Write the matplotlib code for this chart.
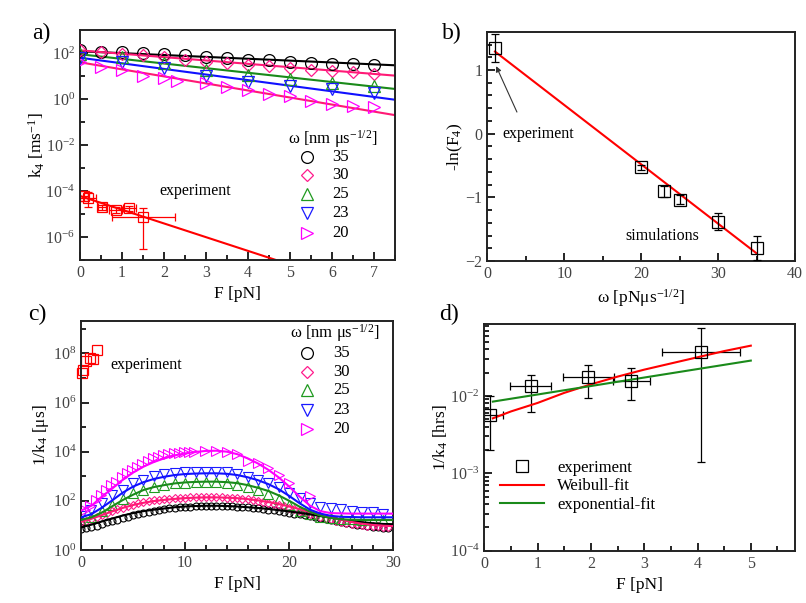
import numpy as np
import matplotlib
matplotlib.use("Agg")
import matplotlib.pyplot as plt
from matplotlib.lines import Line2D
from matplotlib.ticker import FixedLocator, FuncFormatter, MultipleLocator, LogLocator, NullFormatter

plt.rcParams['font.family'] = ['Liberation Serif', 'DejaVu Serif']
plt.rcParams['mathtext.fontset'] = 'custom'
plt.rcParams['mathtext.rm'] = 'Liberation Serif'
plt.rcParams['mathtext.it'] = 'Liberation Serif:italic'
plt.rcParams['mathtext.bf'] = 'Liberation Serif:bold'

# ---------------- data ----------------
omega = [35, 30, 25, 23, 20]
colors = ['black', '#ff1a8c', '#1f9a1f', '#1a1aff', '#ff00ff']
line_colors = ['black', '#ff1a75', '#1a8a1a', '#1010ff', '#ff1a75']
markers = ['o', 'D', '^', 'v', '>']

# panel a: log10 k4 [ms^-1]
a_F_half = [0, 0.5, 1, 1.5, 2, 2.5, 3, 3.5, 4, 4.5, 5, 5.5, 6, 6.5, 7]
a_F_int = [0, 1, 2, 3, 4, 5, 6, 7]
a_F_20 = [0, 0.5, 1, 1.5, 2, 2.3, 3, 3.5, 4, 4.5, 5, 5.5, 6, 6.5, 7]
a_k35 = [2.12, 2.07, 2.06, 2.01, 1.97, 1.9, 1.84, 1.8, 1.72, 1.68, 1.63, 1.58, 1.53, 1.52, 1.49]
a_k30 = [2.12, 2.04, 1.97, 1.93, 1.83, 1.72, 1.63, 1.55, 1.48, 1.42, 1.35, 1.28, 1.21, 1.17, 1.1]
a_k25 = [1.97, 1.82, 1.58, 1.28, 1.05, 0.88, 0.69, 0.59]
a_k23 = [1.78, 1.63, 1.35, 1.02, 0.76, 0.56, 0.44, 0.27]
a_k20 = [1.6, 1.4, 1.25, 1.02, 0.9, 0.8, 0.7, 0.52, 0.38, 0.22, 0.15, -0.07, -0.2, -0.29, -0.36]
a_fit_F = [0, 7.5]
a_fit = [[2.08, 1.47], [2.12, 1.02], [1.95, 0.44], [1.8, -0.03], [1.6, -0.7]]

exp_F = [0.1, 0.18, 0.52, 0.85, 1.17, 1.51]
exp_logk = [-4.2, -4.32, -4.7, -4.82, -4.76, -5.12]
exp_Ferr = [0.1, 0.2, 0.1, 0.15, 0.15, 0.75]
exp_logk_dn = [0.25, 0.36, 0.12, 0.15, 0.12, 1.4]
exp_logk_up = [0.2, 0.29, 0.1, 0.12, 0.1, 0.39]
exp_fit_F = [0, 7.5]
exp_fit = [-4.22, -8.7]

# panel b
b_omega = [20, 23, 25, 30, 35]
b_val = [-0.53, -0.905, -1.04, -1.38, -1.79]
b_err = [0.04, 0.09, 0.07, 0.13, 0.19]
b_exp_omega = [1.0]
b_exp_val = [1.35]
b_exp_err_dn = [0.22]
b_exp_err_up = [0.21]
b_fit_omega = [1, 35]
b_fit = [1.29, -1.88]

# panel c: log10 1/k4 [us]
c_F_fit = np.arange(0, 31, 1)
c_fit35 = [0.92, 1.03, 1.16, 1.28, 1.4, 1.5, 1.58, 1.64, 1.69, 1.74, 1.77, 1.79, 1.8, 1.8, 1.79, 1.77,
           1.74, 1.71, 1.67, 1.62, 1.57, 1.51, 1.45, 1.38, 1.31, 1.24, 1.18, 1.13, 1.09, 1.06, 1.05]
c_fit30 = [1.15, 1.27, 1.42, 1.57, 1.71, 1.83, 1.92, 1.99, 2.04, 2.08, 2.11, 2.13, 2.14, 2.14, 2.13, 2.11,
           2.07, 2.02, 1.95, 1.87, 1.77, 1.66, 1.55, 1.43, 1.32, 1.22, 1.14, 1.07, 1.02, 0.99, 0.97]
c_fit25 = [1.22, 1.33, 1.52, 1.78, 2.03, 2.25, 2.44, 2.56, 2.64, 2.71, 2.75, 2.77, 2.78, 2.78, 2.76, 2.72,
           2.64, 2.53, 2.4, 2.22, 2.0, 1.76, 1.56, 1.4, 1.3, 1.25, 1.23, 1.22, 1.22, 1.22, 1.22]
c_fit23 = [1.33, 1.46, 1.72, 2.02, 2.33, 2.58, 2.76, 2.89, 2.98, 3.05, 3.09, 3.11, 3.12, 3.12, 3.1, 3.05,
           2.96, 2.84, 2.68, 2.47, 2.2, 1.9, 1.64, 1.48, 1.39, 1.35, 1.34, 1.33, 1.33, 1.33, 1.33]
c_fit20 = [1.6, 1.8, 2.17, 2.5, 2.85, 3.15, 3.39, 3.58, 3.73, 3.85, 3.93, 3.99, 4.03, 4.04, 4.0, 3.9,
           3.73, 3.52, 3.26, 2.95, 2.58, 2.17, 1.8, 1.58, 1.5, 1.49, 1.48, 1.48, 1.48, 1.48, 1.48]

c_F_half = np.arange(0, 30, 0.5)
c_F_int = np.arange(0, 30, 1)
c_d35 = [0.85, 0.88, 0.93, 0.99, 1.05, 1.12, 1.18, 1.24, 1.3, 1.36, 1.42, 1.47, 1.52, 1.56, 1.6, 1.63,
         1.66, 1.69, 1.71, 1.73, 1.75, 1.76, 1.77, 1.78, 1.78, 1.79, 1.79, 1.78, 1.78, 1.77, 1.76, 1.74,
         1.73, 1.71, 1.69, 1.67, 1.64, 1.61, 1.58, 1.55, 1.52, 1.48, 1.45, 1.41, 1.37, 1.33, 1.29, 1.25,
         1.21, 1.17, 1.13, 1.1, 1.06, 1.03, 1.0, 0.97, 0.95, 0.93, 0.91, 0.9]
c_d30 = [1.12, 1.18, 1.25, 1.33, 1.41, 1.49, 1.57, 1.65, 1.72, 1.79, 1.85, 1.9, 1.95, 1.99, 2.02, 2.05,
         2.07, 2.09, 2.11, 2.12, 2.13, 2.14, 2.14, 2.15, 2.15, 2.15, 2.14, 2.14, 2.13, 2.12, 2.1, 2.08,
         2.06, 2.03, 2.0, 1.96, 1.92, 1.88, 1.83, 1.78, 1.72, 1.66, 1.6, 1.54, 1.48, 1.42, 1.36, 1.3,
         1.25, 1.2, 1.15, 1.11, 1.07, 1.04, 1.01, 0.99, 0.97, 0.96, 0.95, 0.94]
c_d25 = [1.2, 1.35, 1.6, 1.85, 2.06, 2.3, 2.46, 2.57, 2.64, 2.71, 2.73, 2.75, 2.75, 2.75, 2.73, 2.66,
         2.55, 2.44, 2.28, 2.06, 1.83, 1.6, 1.45, 1.35, 1.3, 1.27, 1.25, 1.24, 1.23, 1.22]
c_d23 = [1.4, 1.63, 1.9, 2.24, 2.46, 2.71, 2.85, 3.01, 3.09, 3.14, 3.17, 3.18, 3.18, 3.18, 3.17, 3.08,
         2.98, 2.85, 2.71, 2.57, 2.3, 2.1, 1.9, 1.76, 1.69, 1.65, 1.6, 1.56, 1.53, 1.45]
c_F_20 = [0.4, 0.9, 1.4, 1.9, 2.4, 2.9, 3.4, 3.9, 4.4, 4.9, 5.4, 5.9, 6.4, 6.9, 7.4, 7.9, 8.4, 8.9,
          9.4, 9.9, 10.4, 10.9, 11.9, 13.0, 14.0, 15.0, 16.0, 17.0, 18.0, 19.0, 20.0, 22.0]
c_d20 = [1.63, 1.8, 2.03, 2.24, 2.44, 2.64, 2.78, 2.95, 3.12, 3.25, 3.39, 3.5, 3.63, 3.73, 3.79, 3.86,
         3.9, 3.93, 3.96, 3.97, 3.99, 4.0, 4.02, 4.02, 3.99, 3.9, 3.63, 3.52, 3.32, 3.05, 2.71, 2.2]

# panel d: 1/k4 [hrs]
d_F = [0.106, 0.87, 1.95, 2.76, 4.06]
d_val = [0.00568, 0.01346, 0.0174, 0.0156, 0.0374]
d_Ferr = [0.25, 0.39, 0.48, 0.35, 0.73]
d_err_dn = [0.0037, 0.0072, 0.0079, 0.0067, 0.0360]
d_err_up = [0.0043, 0.0052, 0.0077, 0.0076, 0.0376]
d_weib_F = [0.16, 0.5, 1, 1.5, 2, 2.5, 3, 3.5, 4, 4.5, 5]
d_weib = [-2.289, -2.2, -2.09, -1.96, -1.85, -1.75, -1.66, -1.58, -1.5, -1.42, -1.35]
d_expo_F = [0.16, 5.0]
d_expo = [-2.073, -1.543]

TICK_C = '#444444'


def style(ax):
    ax.tick_params(which='both', direction='in', top=False, right=False, labelsize=11.5,
                   labelcolor=TICK_C, width=1.2)
    ax.tick_params(which='major', length=6)
    ax.tick_params(which='minor', length=3.5)
    for s in ax.spines.values():
        s.set_linewidth(1.4)
        s.set_color('#222222')


def pow_fmt(v, pos):
    return r'$10^{%d}$' % int(round(np.log10(v)))


def omega_legend(ax, tx, ty, mx, nx, ys):
    ax.text(tx, ty, r'ω [nm μs$^{-1/2}$]', transform=ax.transAxes, fontsize=12, va='center')
    for i in range(5):
        ms = 6.5 if markers[i] == 'D' else 8.5
        ax.plot([mx], [ys[i]], transform=ax.transAxes, ls='none', marker=markers[i], ms=ms,
                mfc='none', mec=colors[i], mew=0.9, clip_on=False)
        ax.text(nx, ys[i], str(omega[i]), transform=ax.transAxes, fontsize=12, va='center')


fig = plt.figure(figsize=(8.06, 6.03), dpi=100)
ax_a = fig.add_axes([0.0993, 0.569, 0.391, 0.381])
ax_b = fig.add_axes([0.6046, 0.5672, 0.3818, 0.380])
ax_c = fig.add_axes([0.1005, 0.0879, 0.3875, 0.3803])
ax_d = fig.add_axes([0.6009, 0.0867, 0.3855, 0.376])

# ---------- a ----------
ax = ax_a
series_a = [(a_F_half, a_k35), (a_F_half, a_k30), (a_F_int, a_k25), (a_F_int, a_k23), (a_F_20, a_k20)]
for i in range(5):
    ax.semilogy(a_fit_F, 10.0 ** np.array(a_fit[i]), color=line_colors[i], lw=1.5, zorder=2)
for i, (fx, fy) in enumerate(series_a):
    ms = 6.5 if markers[i] == 'D' else 8.5
    ax.semilogy(fx, 10.0 ** np.array(fy), ls='none', marker=markers[i], ms=ms, mfc='none',
                mec=colors[i], mew=0.9, zorder=3)
ax.semilogy(exp_fit_F, 10.0 ** np.array(exp_fit), color='red', lw=1.5)
ek = np.array(exp_logk)
ax.errorbar(exp_F, 10.0 ** ek, xerr=exp_Ferr,
            yerr=[10.0 ** ek - 10.0 ** (ek - np.array(exp_logk_dn)),
                  10.0 ** (ek + np.array(exp_logk_up)) - 10.0 ** ek],
            fmt='s', ms=7.5, mfc='none', mec='red', ecolor='red', elinewidth=0.9, capsize=3, mew=0.9)
ax.set_xlim(0, 7.5)
ax.set_ylim(1e-7, 1e3)
ax.xaxis.set_major_locator(MultipleLocator(1))
ax.xaxis.set_minor_locator(MultipleLocator(0.5))
ax.yaxis.set_major_locator(FixedLocator([1e-6, 1e-4, 1e-2, 1e0, 1e2]))
ax.yaxis.set_minor_locator(FixedLocator([1e-7, 1e-5, 1e-3, 1e-1, 1e1]))
ax.yaxis.set_major_formatter(FuncFormatter(pow_fmt))
ax.yaxis.set_minor_formatter(NullFormatter())
ax.set_xlabel('F [pN]', fontsize=12.5, labelpad=4)
ax.set_ylabel(r'k$_4$ [ms$^{-1}$]', fontsize=12.5, labelpad=-1)
ax.text(1.9, 1e-4, 'experiment', fontsize=11.5, va='center')
omega_legend(ax, 0.66, 0.528, 0.72, 0.80, [0.448, 0.370, 0.288, 0.202, 0.117])
style(ax)

# ---------- b ----------
ax = ax_b
ax.plot(b_fit_omega, b_fit, color='red', lw=1.5, zorder=2)
ax.errorbar(b_omega, b_val, yerr=b_err, fmt='s', ms=8, mfc='none', mec='black', ecolor='black',
            elinewidth=0.9, capsize=3, mew=0.9, zorder=3, clip_on=False)
ax.errorbar(b_exp_omega, b_exp_val, yerr=[b_exp_err_dn, b_exp_err_up], fmt='s', ms=8, mfc='none',
            mec='black', ecolor='black', elinewidth=0.9, capsize=3, mew=0.9, zorder=3)
ax.annotate('', xy=(1.0, 1.1), xytext=(4.0, 0.3),
            arrowprops=dict(arrowstyle='-|>', color='#333333', lw=0.8, mutation_scale=8))
ax.text(2.0, 0.0, 'experiment', fontsize=11.5, va='center')
ax.text(18.0, -1.6, 'simulations', fontsize=11.5, va='center')
ax.set_xlim(0, 40)
ax.set_ylim(-2, 1.6)
ax.xaxis.set_major_locator(MultipleLocator(10))
ax.xaxis.set_minor_locator(MultipleLocator(5))
ax.yaxis.set_major_locator(MultipleLocator(1))
ax.yaxis.set_minor_locator(MultipleLocator(0.2))
ax.set_xlabel(r'ω [pNμs$^{-1/2}$]', fontsize=12.5, labelpad=4)
ax.set_ylabel(r'-ln(F$_4$)', fontsize=12.5, labelpad=0)
style(ax)

# ---------- c ----------
ax = ax_c
c_fits = [c_fit35, c_fit30, c_fit25, c_fit23, c_fit20]
c_line_colors = ['black', '#ff1a75', '#1a8a1a', '#1010ff', '#ff00ff']
c_marks = [(c_F_half, c_d35), (c_F_half, c_d30), (c_F_int, c_d25), (c_F_int, c_d23), (c_F_20, c_d20)]
c_ms = [5, 4.5, 7, 7, 7]
for i in range(5):
    fx, fy = c_marks[i]
    ax.semilogy(fx, 10.0 ** np.array(fy), ls='none', marker=markers[i], ms=c_ms[i], mfc='none',
                mec=colors[i], mew=0.8, zorder=2)
for i in range(5):
    ax.semilogy(c_F_fit, 10.0 ** np.array(c_fits[i]), color=c_line_colors[i], lw=1.5, zorder=3)
ax.semilogy(exp_F, 1e3 / 10.0 ** np.array(exp_logk), ls='none', marker='s', ms=7.5, mfc='none',
            mec='red', mew=0.9, clip_on=False)
ax.text(2.8, 10 ** 7.53, 'experiment', fontsize=11.5, va='center')
ax.set_xlim(0, 30)
ax.set_ylim(1, 10 ** 9.33)
ax.xaxis.set_major_locator(MultipleLocator(10))
ax.xaxis.set_minor_locator(MultipleLocator(2))
ax.yaxis.set_major_locator(FixedLocator([1e0, 1e2, 1e4, 1e6, 1e8]))
ax.yaxis.set_minor_locator(FixedLocator([1e1, 1e3, 1e5, 1e7, 1e9]))
ax.yaxis.set_major_formatter(FuncFormatter(pow_fmt))
ax.yaxis.set_minor_formatter(NullFormatter())
ax.set_xlabel('F [pN]', fontsize=12.5, labelpad=4)
ax.set_ylabel(r'1/k$_4$ [μs]', fontsize=12.5, labelpad=1)
omega_legend(ax, 0.669, 0.948, 0.724, 0.807, [0.858, 0.778, 0.696, 0.61, 0.526])
style(ax)

# ---------- d ----------
ax = ax_d
ax.errorbar(d_F, d_val, xerr=d_Ferr, yerr=[d_err_dn, d_err_up], fmt='s', ms=8, mfc='none',
            mec='black', ecolor='black', elinewidth=0.9, capsize=3, mew=0.9)
ax.semilogy(d_weib_F, 10.0 ** np.array(d_weib), color='red', lw=1.5)
ax.semilogy(d_expo_F, 10.0 ** np.array(d_expo), color='#1a8a1a', lw=1.5)
ax.set_yscale('log')
ax.set_xlim(0, 5.83)
ax.set_ylim(1e-4, 10 ** -1.07)
ax.xaxis.set_major_locator(MultipleLocator(1))
ax.xaxis.set_minor_locator(MultipleLocator(0.5))
ax.yaxis.set_major_locator(FixedLocator([1e-4, 1e-3, 1e-2]))
ax.yaxis.set_minor_locator(LogLocator(base=10, subs=np.arange(2, 10)))
ax.yaxis.set_major_formatter(FuncFormatter(pow_fmt))
ax.yaxis.set_minor_formatter(NullFormatter())
ax.set_xlabel('F [pN]', fontsize=12.5, labelpad=4)
ax.set_ylabel(r'1/k$_4$ [hrs]', fontsize=12.5, labelpad=0)
leg_handles = [Line2D([], [], ls='none', marker='s', ms=8, mfc='none', mec='black', mew=0.9),
               Line2D([], [], color='red', lw=1.5),
               Line2D([], [], color='#1a8a1a', lw=1.5)]
ax.legend(leg_handles, ['experiment', 'Weibull-fit', 'exponential-fit'], loc='upper left',
          bbox_to_anchor=(0.03, 0.43), frameon=False, fontsize=12, handlelength=2.6,
          labelspacing=0.15, borderaxespad=0)
style(ax)

for lab, x, y in [('a)', 0.04, 0.945), ('b)', 0.548, 0.945), ('c)', 0.035, 0.478), ('d)', 0.545, 0.478)]:
    fig.text(x, y, lab, fontsize=17, va='center')

fig.savefig('out.png', dpi=100)
